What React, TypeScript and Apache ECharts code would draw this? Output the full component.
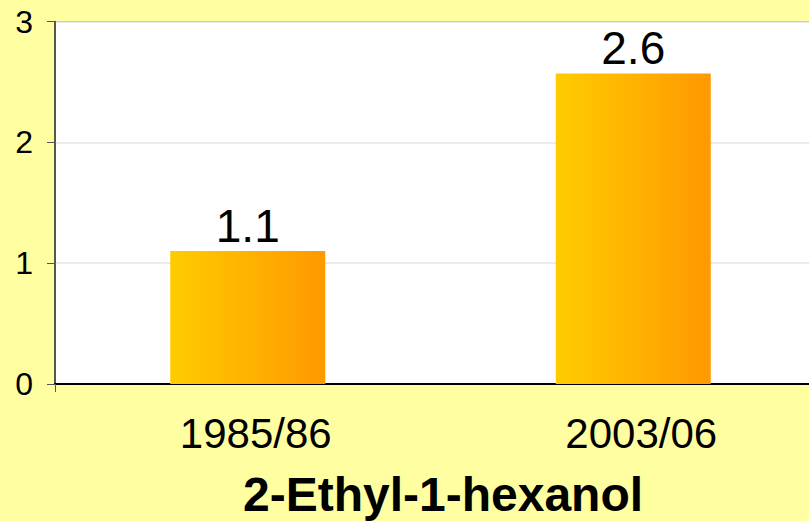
import React, { useEffect, useRef } from "react";
import * as echarts from "echarts";

const categories = ["1985/86", "2003/06"];
const values = [1.1, 2.57];
const yTicks = [0, 1, 2, 3];
const chartTitle = "2-Ethyl-1-hexanol";

export default function App() {
  const ref = useRef<HTMLDivElement>(null);
  useEffect(() => {
    document.body.style.margin = "0";
    document.body.style.overflow = "hidden";
    document.documentElement.style.overflow = "hidden";
    const chart = echarts.init(ref.current!, null, { renderer: "svg" });
    chart.setOption({
      animation: false,
      backgroundColor: "#FFFFA2",
      textStyle: { fontFamily: "Liberation Sans, Arial, sans-serif" },
      grid: {
        left: 55,
        top: 21.5,
        right: 0,
        bottom: 137,
        show: true,
        backgroundColor: "#ffffff",
        borderColor: "#808080",
        borderWidth: 1,
      },
      xAxis: {
        type: "category",
        data: categories,
        axisLine: { show: true, lineStyle: { color: "#000", width: 2 } },
        axisTick: {
          show: true,
          length: 8,
          interval: (i: number) => i === 0,
          lineStyle: { color: "#555" },
        },
        axisLabel: {
          color: "#000",
          fontSize: 42,
          margin: 28,
          padding: [0, 0, 0, 16],
        },
      },
      yAxis: {
        type: "value",
        min: yTicks[0],
        max: yTicks[yTicks.length - 1],
        interval: 1,
        axisLine: { show: true, lineStyle: { color: "#333", width: 1.5 } },
        axisTick: { show: true, length: 8, lineStyle: { color: "#555" } },
        axisLabel: { color: "#000", fontSize: 32, margin: 22 },
        splitLine: { show: true, lineStyle: { color: "#e4e4e4", width: 1.5 } },
      },
      series: [
        {
          type: "bar",
          data: values,
          barWidth: 155,
          itemStyle: {
            color: new echarts.graphic.LinearGradient(0, 0, 1, 0, [
              { offset: 0, color: "#FFCC00" },
              { offset: 1, color: "#FF9900" },
            ]),
          },
          label: {
            show: true,
            position: "top",
            distance: 2,
            fontSize: 46,
            color: "#000",
            formatter: (p: any) => Number(p.value).toFixed(1),
          },
        },
      ],
      graphic: [
        {
          type: "text",
          x: 443,
          y: 494,
          style: {
            text: chartTitle,
            fontSize: 48,
            fontWeight: "bold",
            fill: "#000",
            align: "center",
            verticalAlign: "middle",
            fontFamily: "Liberation Sans, Arial, sans-serif",
          },
        },
      ],
    });
    return () => chart.dispose();
  }, []);
  return <div ref={ref} style={{ width: 826, height: 521 }} />;
}
